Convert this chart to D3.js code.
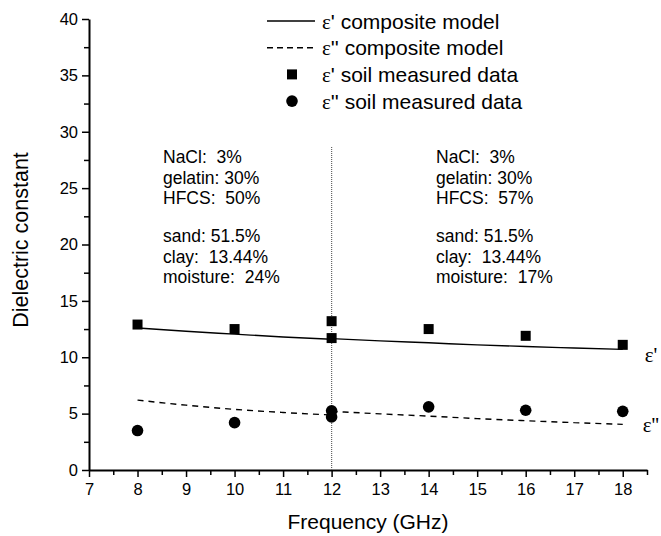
<!DOCTYPE html>
<html>
<head>
<meta charset="utf-8">
<script src="https://cdn.jsdelivr.net/npm/d3@7"></script>
<style>
  body { margin: 0; background: #fff; }
  svg { font-family: Arial, "Liberation Sans", sans-serif; }
  text { white-space: pre; }
</style>
</head>
<body>
<script>
// measured data (eps' = real part, eps'' = imaginary part)
var freqMeas = [8, 10, 12, 12, 14, 16, 18];
var epsRealMeas = [12.9, 12.5, 13.2, 11.7, 12.5, 11.9, 11.1];
var epsImagMeas = [3.5, 4.2, 5.25, 4.7, 5.6, 5.3, 5.2];

// composite model, left part (moisture 24%) and right part (moisture 17%)
var freqModelLeft = [8, 9, 10, 11, 12];
var realModelLeft = [12.6, 12.3, 12.05, 11.8, 11.6];
var imagModelLeft = [6.2, 5.75, 5.38, 5.1, 4.88];
var freqModelRight = [12, 13, 14, 15, 16, 17, 18];
var realModelRight = [11.65, 11.45, 11.28, 11.1, 10.95, 10.82, 10.7];
var imagModelRight = [5.2, 4.98, 4.78, 4.56, 4.37, 4.2, 4.05];

var xTicks = [7, 8, 9, 10, 11, 12, 13, 14, 15, 16, 17, 18];
var yTicks = [0, 5, 10, 15, 20, 25, 30, 35, 40];

var leftNote = ["NaCl:  3%", "gelatin: 30%", "HFCS:  50%", "", "sand: 51.5%", "clay:  13.44%", "moisture:  24%"];
var rightNote = ["NaCl:  3%", "gelatin: 30%", "HFCS:  57%", "", "sand: 51.5%", "clay:  13.44%", "moisture:  17%"];

var W = 661, H = 536;
var margin = {top: 19, right: 14, bottom: 66, left: 89};
var width = W - margin.left - margin.right;
var height = H - margin.top - margin.bottom;

var svg = d3.select("body").append("svg")
    .attr("width", W).attr("height", H);
var g = svg.append("g")
    .attr("transform", "translate(" + margin.left + "," + margin.top + ")");

var x = d3.scaleLinear().domain([7, 18.5]).range([0, width]);
var y = d3.scaleLinear().domain([0, 40]).range([height, 0]);

// minor ticks first
g.append("g").attr("transform", "translate(0," + height + ")")
  .call(d3.axisBottom(x).tickValues(d3.range(7.5, 18.6, 1)).tickSize(5).tickFormat(""))
  .call(function(s){ s.select(".domain").remove(); s.selectAll("line").attr("stroke-width", 1.5); });
g.append("g")
  .call(d3.axisLeft(y).tickValues(d3.range(2.5, 40, 5)).tickSize(5).tickFormat(""))
  .call(function(s){ s.select(".domain").remove(); s.selectAll("line").attr("stroke-width", 1.5); });

// major axes
var xAxis = g.append("g").attr("transform", "translate(0," + height + ")")
  .call(d3.axisBottom(x).tickValues(xTicks).tickSize(7).tickSizeOuter(0).tickPadding(6));
var yAxis = g.append("g")
  .call(d3.axisLeft(y).tickValues(yTicks).tickSize(7).tickSizeOuter(0).tickPadding(4));
[xAxis, yAxis].forEach(function(a){
  a.select(".domain").attr("stroke-width", 2);
  a.selectAll("line").attr("stroke-width", 1.5);
  a.selectAll("text").attr("font-size", 16.5).attr("fill", "#000")
   .style("font-family", "Arial, 'Liberation Sans', sans-serif");
});

// axis titles
svg.append("text").attr("x", margin.left + width / 2).attr("y", 529)
  .attr("text-anchor", "middle").attr("font-size", 21).text("Frequency (GHz)");
svg.append("text").attr("transform", "translate(28,240) rotate(-90)")
  .attr("text-anchor", "middle").attr("font-size", 21.5).text("Dielectric constant");

// vertical dotted divider at 12 GHz
g.append("line")
  .attr("x1", x(12)).attr("x2", x(12))
  .attr("y1", 128).attr("y2", height)
  .attr("stroke", "#666").attr("stroke-width", 1.2).attr("stroke-dasharray", "1,1");

// model lines
var line = d3.line().x(function(d){ return x(d[0]); }).y(function(d){ return y(d[1]); }).curve(d3.curveMonotoneX);
function draw(fs, vs, dash) {
  g.append("path").datum(d3.zip(fs, vs))
    .attr("d", line).attr("fill", "none").attr("stroke", "#000")
    .attr("stroke-width", 1.4).attr("stroke-dasharray", dash);
}
draw(freqModelLeft, realModelLeft, null);
draw(freqModelRight, realModelRight, null);
draw(freqModelLeft, imagModelLeft, "6,5");
draw(freqModelRight, imagModelRight, "6,5");

// measured markers
var sq = 10;
g.selectAll(".sq").data(d3.zip(freqMeas, epsRealMeas)).enter().append("rect")
  .attr("x", function(d){ return x(d[0]) - sq / 2; })
  .attr("y", function(d){ return y(d[1]) - sq / 2; })
  .attr("width", sq).attr("height", sq).attr("fill", "#000");
g.selectAll(".ci").data(d3.zip(freqMeas, epsImagMeas)).enter().append("circle")
  .attr("cx", function(d){ return x(d[0]); })
  .attr("cy", function(d){ return y(d[1]); })
  .attr("r", 5.8).attr("fill", "#000");

// curve labels
g.append("text").attr("x", x(18) + 22).attr("y", y(10.7) + 13)
  .attr("font-family", "'Liberation Serif', 'DejaVu Serif', serif").attr("font-size", 21).text("ε'");
g.append("text").attr("x", x(18) + 20).attr("y", y(4.05) + 8)
  .attr("font-family", "'Liberation Serif', 'DejaVu Serif', serif").attr("font-size", 21).text("ε''");

// annotations
function note(lines, x0) {
  var t = svg.append("text").attr("font-size", 17.5).attr("x", x0).attr("y", 163);
  lines.forEach(function(s, i){
    t.append("tspan").attr("x", x0).attr("y", 163 + i * 20.7 + (i > 3 ? -4 : 0)).text(s);
  });
}
note(leftNote, 163);
note(rightNote, 436);

// legend
var legend = svg.append("g").attr("transform", "translate(267,0)");
var items = [
  {type: "solid", label: "' composite model"},
  {type: "dash", label: "'' composite model"},
  {type: "square", label: "' soil measured data"},
  {type: "circle", label: "'' soil measured data"}
];
items.forEach(function(it, i){
  var cy = 21 + i * 26.7;
  if (it.type === "solid" || it.type === "dash") {
    legend.append("line").attr("x1", 0).attr("x2", 48).attr("y1", cy).attr("y2", cy)
      .attr("stroke", "#000").attr("stroke-width", 1.4)
      .attr("stroke-dasharray", it.type === "dash" ? "6,4" : null);
  } else if (it.type === "square") {
    legend.append("rect").attr("x", 25 - 5).attr("y", cy - 5).attr("width", 10).attr("height", 10);
  } else {
    legend.append("circle").attr("cx", 25).attr("cy", cy).attr("r", 5.8);
  }
  var t = legend.append("text").attr("x", 55).attr("y", cy + 7.5).attr("font-size", 21);
  t.append("tspan").attr("font-family", "'Liberation Serif', 'DejaVu Serif', serif").text("ε");
  t.append("tspan").text(it.label);
});
</script>
</body>
</html>
